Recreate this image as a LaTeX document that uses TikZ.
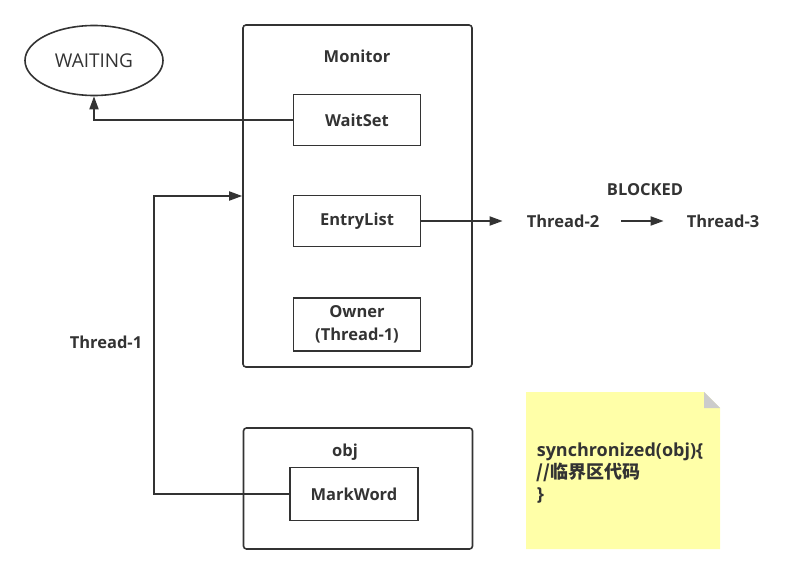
\documentclass[tikz,border=0pt]{standalone}
\usepackage{fontspec}
\setmainfont{Open Sans}
\newfontfamily\cjk{Noto Sans CJK SC}
\usetikzlibrary{shapes.geometric,positioning,arrows.meta}
\definecolor{ink}{HTML}{333333}
\definecolor{notey}{HTML}{FFFFA8}
\definecolor{foldg}{HTML}{CCCCCC}

\begin{document}
\begin{tikzpicture}[x=1pt,y=-1pt,line width=1.6pt,
  box/.style={draw=ink,rectangle,minimum width=127pt,minimum height=51pt,text=ink,align=center,font=\bfseries\fontsize{16.5}{19}\selectfont},
  frame/.style={draw=ink,rectangle,rounded corners=3pt,minimum width=229pt},
  lbl/.style={text=ink,font=\bfseries\fontsize{16.5}{19}\selectfont},
  arr/.style={draw=ink,line width=1.8pt,-{Triangle[length=13pt,width=9pt]}}]
\useasboundingbox (0,0) rectangle (808,575);
% monitor
\node[frame,minimum height=342pt] (monitor) at (357.5,196) {};
\node[lbl] (monitorlbl) at (357,56) {Monitor};
\node[box] (waitset) at (357,120) {WaitSet};
\node[box] (entrylist) at (357,221) {EntryList};
\node[box,minimum height=53pt,font=\bfseries\fontsize{16.5}{23}\selectfont] (owner) at (357,324.5) {Owner\\(Thread-1)};
% obj
\node[frame,minimum height=121pt] (obj) at (358,488.5) {};
\node[lbl] (objlbl) at (345,452) {obj};
\node[box,minimum width=128pt,minimum height=53pt] (markword) at (354,494) {MarkWord};
% states
\node[draw=ink,ellipse,minimum width=138pt,minimum height=70pt,text=ink,font=\fontsize{19}{22}\selectfont] (waiting) at (94,60.5) {WAITING};
\node[lbl] (t1) at (106,342) {Thread-1};
\node[lbl] (t2) at (563,221) {Thread-2};
\node[lbl] (t3) at (723,221) {Thread-3};
\node[lbl] (blocked) at (645,190) {BLOCKED};
% note
\fill[notey] (526,392) -- (704,392) -- (720,408) -- (720,549) -- (526,549) -- cycle;
\fill[foldg] (704,392) -- (720,408) -- (704,408) -- cycle;
\node[anchor=north west,inner sep=0pt,align=left,text=ink,font=\bfseries\fontsize{18}{22}\selectfont] (code) at (536,442)
  {synchronized(obj)\{\\{\cjk //临界区代码}\\\}};
% arrows
\coordinate (bend) at (154,494);
\draw[arr] (markword.west) -- (bend) |- (monitor.west);
\draw[arr] (waitset.west) -| (waiting.south);
\draw[arr,shorten >=20pt] (entrylist.east) -- (t2.west |- entrylist.east);
\draw[arr,shorten <=18pt,shorten >=19pt] (t2.east) -- (t3.west);
\end{tikzpicture}
\end{document}
